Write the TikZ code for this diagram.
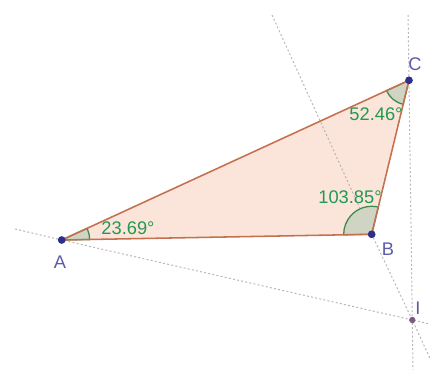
\documentclass[tikz,border=0pt]{standalone}
\usepackage{fontspec}
\setmainfont{Liberation Sans}
\usetikzlibrary{calc}
\definecolor{edgecol}{HTML}{C4704F}
\definecolor{fillcol}{HTML}{FBE4DA}
\definecolor{secfill}{HTML}{CFD5C2}
\definecolor{secline}{HTML}{3E8A4C}
\definecolor{angtext}{HTML}{22994F}
\definecolor{ptcol}{HTML}{2E2E8C}
\definecolor{lblcol}{HTML}{5B5BA8}
\definecolor{icol}{HTML}{7A5A82}
\definecolor{auxcol}{HTML}{B9B4B8}
\tikzset{
  auxline/.style={auxcol, line width=0.7pt, dash pattern=on 1.4pt off 1.6pt},
  edge/.style={edgecol, line width=1.1pt},
  sector/.style={fill=secfill, draw=secline, line width=0.9pt},
  angtxt/.style={text=angtext, font=\fontsize{13}{15}\selectfont, inner sep=0pt},
  ptlbl/.style={text=lblcol, font=\fontsize{13}{15}\selectfont, inner sep=0pt},
  dot/.style={circle, fill=ptcol, inner sep=0pt, minimum size=5.5pt},
  idot/.style={circle, fill=icol, inner sep=0pt, minimum size=4.5pt}
}
\begin{document}
\begin{tikzpicture}[x=0.025cm,y=0.025cm]
\useasboundingbox (0,0) rectangle (430,370);
\coordinate (A) at (61.7,130);
\coordinate (B) at (371.7,135.7);
\coordinate (C) at (409,289.7);
\coordinate (I) at (412.3,50);
\coordinate (L1s) at (15,141);
\coordinate (L1e) at (430,46);
\coordinate (L2s) at (272,355);
\coordinate (L2e) at (435.3,0);
\coordinate (L3s) at (408.1,355);
\coordinate (L3e) at (413,0);
% triangle fill
\fill[fillcol] (A) -- (B) -- (C) -- cycle;
% auxiliary lines
\begin{scope}
\clip (0,0) rectangle (430,370);
\draw[auxline] (L1s) -- (A) -- (I) -- (L1e);
\draw[auxline] (L2s) -- (B) -- (I) -- (L2e);
\draw[auxline] (L3s) -- (C) -- (I) -- (L3e);
\end{scope}
% angle sectors
\draw[sector] (A) -- ++(1.05:0.7cm) arc[start angle=1.05, end angle=24.7, radius=0.7cm] -- cycle;
\draw[sector] (B) -- ++(76.4:0.7cm) arc[start angle=76.4, end angle=181.05, radius=0.7cm] -- cycle;
\draw[sector] (C) -- ++(204.7:0.62cm) arc[start angle=204.7, end angle=256.4, radius=0.62cm] -- cycle;
% edges
\draw[edge] (A) -- (B) -- (C) -- cycle;
% points
\node[dot] (pA) at (A) {};
\node[dot] (pB) at (B) {};
\node[dot] (pC) at (C) {};
\node[idot] (pI) at (I) {};
% labels
\node[angtxt] (tA) at (128,142) {23.69°};
\node[angtxt] (tB) at (350,173) {103.85°};
\node[angtxt] (tC) at (376,256) {52.46°};
\node[ptlbl] (lA) at (60,108) {A};
\node[ptlbl] (lB) at (388,121) {B};
\node[ptlbl] (lC) at (415,306) {C};
\node[ptlbl] (lI) at (418,62) {I};
\end{tikzpicture}
\end{document}
